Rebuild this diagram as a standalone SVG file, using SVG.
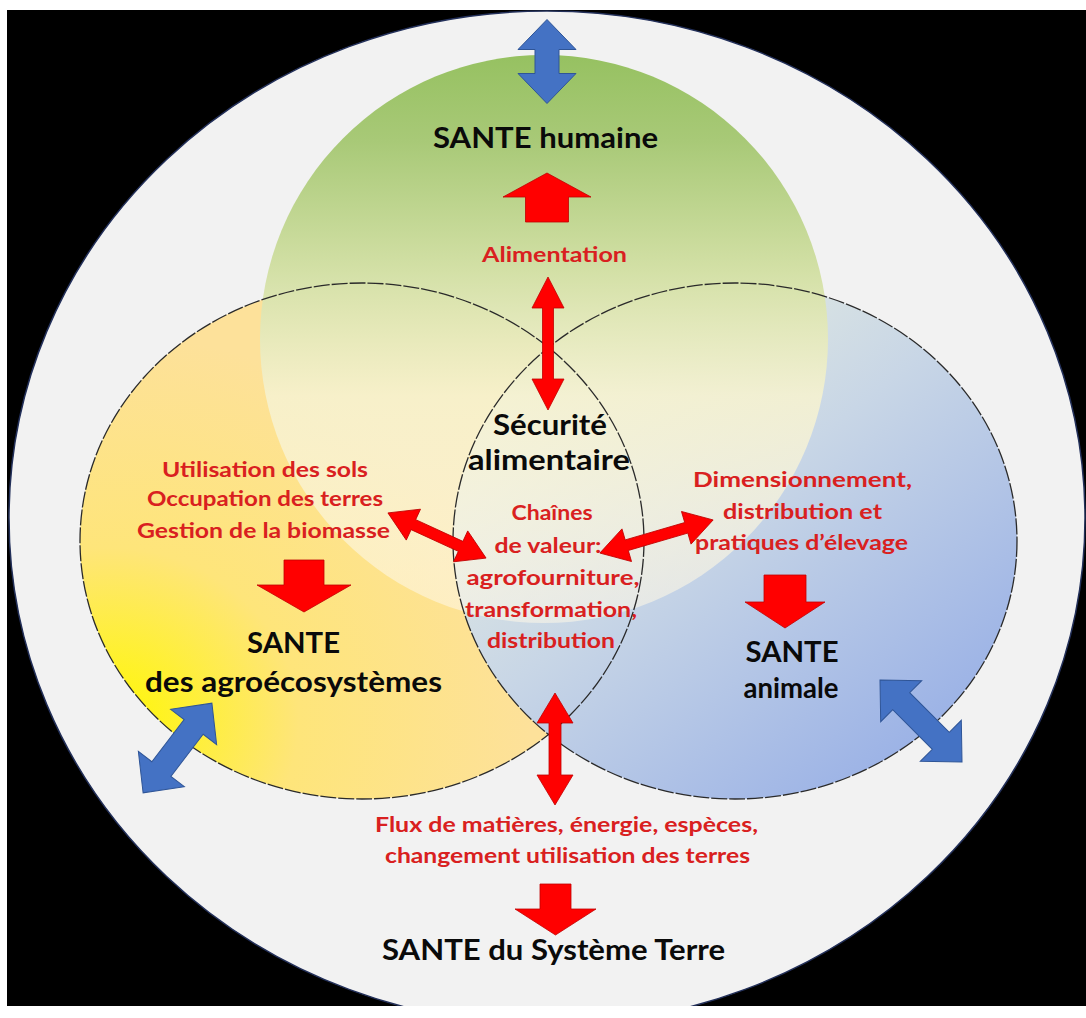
<svg xmlns="http://www.w3.org/2000/svg" width="1086" height="1018" viewBox="0 0 1086 1018">
<style>
.t{font-family:"Lato","Liberation Sans",sans-serif;font-weight:bold;text-anchor:middle}
.blk{fill:#0a0a0a;font-size:28px}
.red{fill:#d92020;font-size:21px}
.ring{fill:none;stroke:#2a2a2a;stroke-width:1.3;stroke-dasharray:16 2}
.barrow{fill:#4472c4;stroke:#2f5597;stroke-width:1}
.rarrow{fill:#ff0000;stroke:#c00000;stroke-width:0.8}
</style>
<defs>
<clipPath id="frame"><rect x="7" y="10" width="1079" height="996"/></clipPath>
<radialGradient id="gYellow" cx="0.05" cy="0.85" r="0.75">
<stop offset="0" stop-color="#fff800"/>
<stop offset="0.45" stop-color="#fee57a"/>
<stop offset="1" stop-color="#fde19a"/>
</radialGradient>
<linearGradient id="gBlue" x1="0.15" y1="0.1" x2="0.85" y2="0.9">
<stop offset="0" stop-color="#eaf0e0"/>
<stop offset="0.45" stop-color="#c8d6e6"/>
<stop offset="1" stop-color="#9ab1e6"/>
</linearGradient>
<linearGradient id="gGreen" x1="0" y1="0" x2="0" y2="1">
<stop offset="0" stop-color="#96c161"/>
<stop offset="0.15" stop-color="#a8c977"/>
<stop offset="0.38" stop-color="#d3e0a6"/>
<stop offset="0.6" stop-color="#f6f2d0" stop-opacity="0.88"/>
<stop offset="1" stop-color="#fff8e8" stop-opacity="0.55"/>
</linearGradient>
</defs>

<rect x="0" y="0" width="1086" height="1018" fill="#ffffff"/>
<rect x="7" y="10" width="1079" height="996" fill="#000000"/>

<g id="systeme-terre">
<ellipse cx="547" cy="518" rx="538" ry="507" fill="#f2f2f2" stroke="#23305a" stroke-width="1.5" clip-path="url(#frame)"/>
</g>
<g id="agroecosystemes-circle">
<ellipse cx="362" cy="541" rx="282" ry="258" fill="url(#gYellow)"/>
</g>
<g id="animale-circle">
<ellipse cx="735" cy="541" rx="282" ry="258" fill="url(#gBlue)"/>
</g>
<g id="humaine-circle">
<circle cx="544" cy="339" r="284" fill="url(#gGreen)"/>
</g>
<g id="outlines">
<ellipse class="ring" cx="362" cy="541" rx="282" ry="258"/>
<ellipse class="ring" cx="735" cy="541" rx="282" ry="258"/>
</g>

<g id="connectors">
<path class="barrow" transform="translate(547,61.5) rotate(90)" d="M-42 0 L-12 -29 L-12 -12 L12 -12 L12 -29 L42 0 L12 29 L12 12 L-12 12 L-12 29 Z"/>
<path class="barrow" transform="translate(177.5,748) rotate(-52.5)" d="M-56.5 0 L-26.5 -29 L-26.5 -12 L26.5 -12 L26.5 -29 L56.5 0 L26.5 29 L26.5 12 L-26.5 12 L-26.5 29 Z"/>
<path class="barrow" transform="translate(921,721) rotate(45)" d="M-58 0 L-28 -29 L-28 -12 L28 -12 L28 -29 L58 0 L28 29 L28 12 L-28 12 L-28 29 Z"/>
<polygon class="rarrow" points="547,173 591,197 568.5,197 568.5,222 525.5,222 525.5,197 503,197"/>
<polygon class="rarrow" points="284,560 324,560 324,585 351,585 304,612 257,585 284,585"/>
<polygon class="rarrow" points="764,575 806,575 806,602 825,602 785,628 745,602 764,602"/>
<polygon class="rarrow" points="540,884 571,884 571,909 596,909 555.5,935 515,909 540,909"/>
<path class="rarrow" transform="translate(548,343.5) rotate(90)" d="M-66.5 0 L-35.5 -16 L-35.5 -5.5 L35.5 -5.5 L35.5 -16 L66.5 0 L35.5 16 L35.5 5.5 L-35.5 5.5 L-35.5 16 Z"/>
<path class="rarrow" transform="translate(555,749) rotate(90)" d="M-56 0 L-26 -18 L-26 -6 L26 -6 L26 -18 L56 0 L26 18 L26 6 L-26 6 L-26 18 Z"/>
<path class="rarrow" transform="translate(437,535.5) rotate(24.7)" d="M-54 0 L-26 -17 L-26 -5.5 L26 -5.5 L26 -17 L54 0 L26 17 L26 5.5 L-26 5.5 L-26 17 Z"/>
<path class="rarrow" transform="translate(656.5,536.5) rotate(-16.3)" d="M-59 0 L-31 -17 L-31 -5.5 L31 -5.5 L31 -17 L59 0 L31 17 L31 5.5 L-31 5.5 L-31 17 Z"/>
</g>

<g id="sante-humaine">
<text class="t blk" x="545.5" y="148" textLength="225" lengthAdjust="spacingAndGlyphs">SANTE humaine</text>
</g>
<g id="alimentation">
<text class="t red" x="554.5" y="262" textLength="145" lengthAdjust="spacingAndGlyphs">Alimentation</text>
</g>
<g id="securite-alimentaire">
<text class="t blk" x="550" y="435" textLength="114" lengthAdjust="spacingAndGlyphs">Sécurité</text>
<text class="t blk" x="549" y="470" textLength="162" lengthAdjust="spacingAndGlyphs">alimentaire</text>
</g>
<g id="chaines-de-valeur">
<text class="t red" x="552" y="520" textLength="81" lengthAdjust="spacingAndGlyphs">Chaînes</text>
<text class="t red" x="548" y="553" textLength="107" lengthAdjust="spacingAndGlyphs">de valeur:</text>
<text class="t red" x="553" y="585" textLength="173" lengthAdjust="spacingAndGlyphs">agrofourniture,</text>
<text class="t red" x="551" y="617" textLength="172" lengthAdjust="spacingAndGlyphs">transformation,</text>
<text class="t red" x="551" y="648" textLength="128" lengthAdjust="spacingAndGlyphs">distribution</text>
</g>
<g id="utilisation-sols">
<text class="t red" x="265" y="477" textLength="206" lengthAdjust="spacingAndGlyphs">Utilisation des sols</text>
<text class="t red" x="265" y="506" textLength="236" lengthAdjust="spacingAndGlyphs">Occupation des terres</text>
<text class="t red" x="263.5" y="538" textLength="253" lengthAdjust="spacingAndGlyphs">Gestion de la biomasse</text>
</g>
<g id="sante-agroecosystemes">
<text class="t blk" x="293.5" y="653" textLength="93" lengthAdjust="spacingAndGlyphs">SANTE</text>
<text class="t blk" x="293.5" y="692" textLength="297" lengthAdjust="spacingAndGlyphs">des agroécosystèmes</text>
</g>
<g id="dimensionnement">
<text class="t red" x="802.5" y="487" textLength="219" lengthAdjust="spacingAndGlyphs">Dimensionnement,</text>
<text class="t red" x="802.5" y="519" textLength="159" lengthAdjust="spacingAndGlyphs">distribution et</text>
<text class="t red" x="801.5" y="550" textLength="213" lengthAdjust="spacingAndGlyphs">pratiques d’élevage</text>
</g>
<g id="sante-animale">
<text class="t blk" x="792" y="662" textLength="93" lengthAdjust="spacingAndGlyphs">SANTE</text>
<text class="t blk" x="791" y="698" textLength="95" lengthAdjust="spacingAndGlyphs">animale</text>
</g>
<g id="flux">
<text class="t red" x="566.5" y="832" textLength="383" lengthAdjust="spacingAndGlyphs">Flux de matières, énergie, espèces,</text>
<text class="t red" x="567.5" y="863" textLength="365" lengthAdjust="spacingAndGlyphs">changement utilisation des terres</text>
</g>
<g id="sante-systeme-terre">
<text class="t blk" x="553.5" y="960" textLength="343" lengthAdjust="spacingAndGlyphs">SANTE du Système Terre</text>
</g>
</svg>
